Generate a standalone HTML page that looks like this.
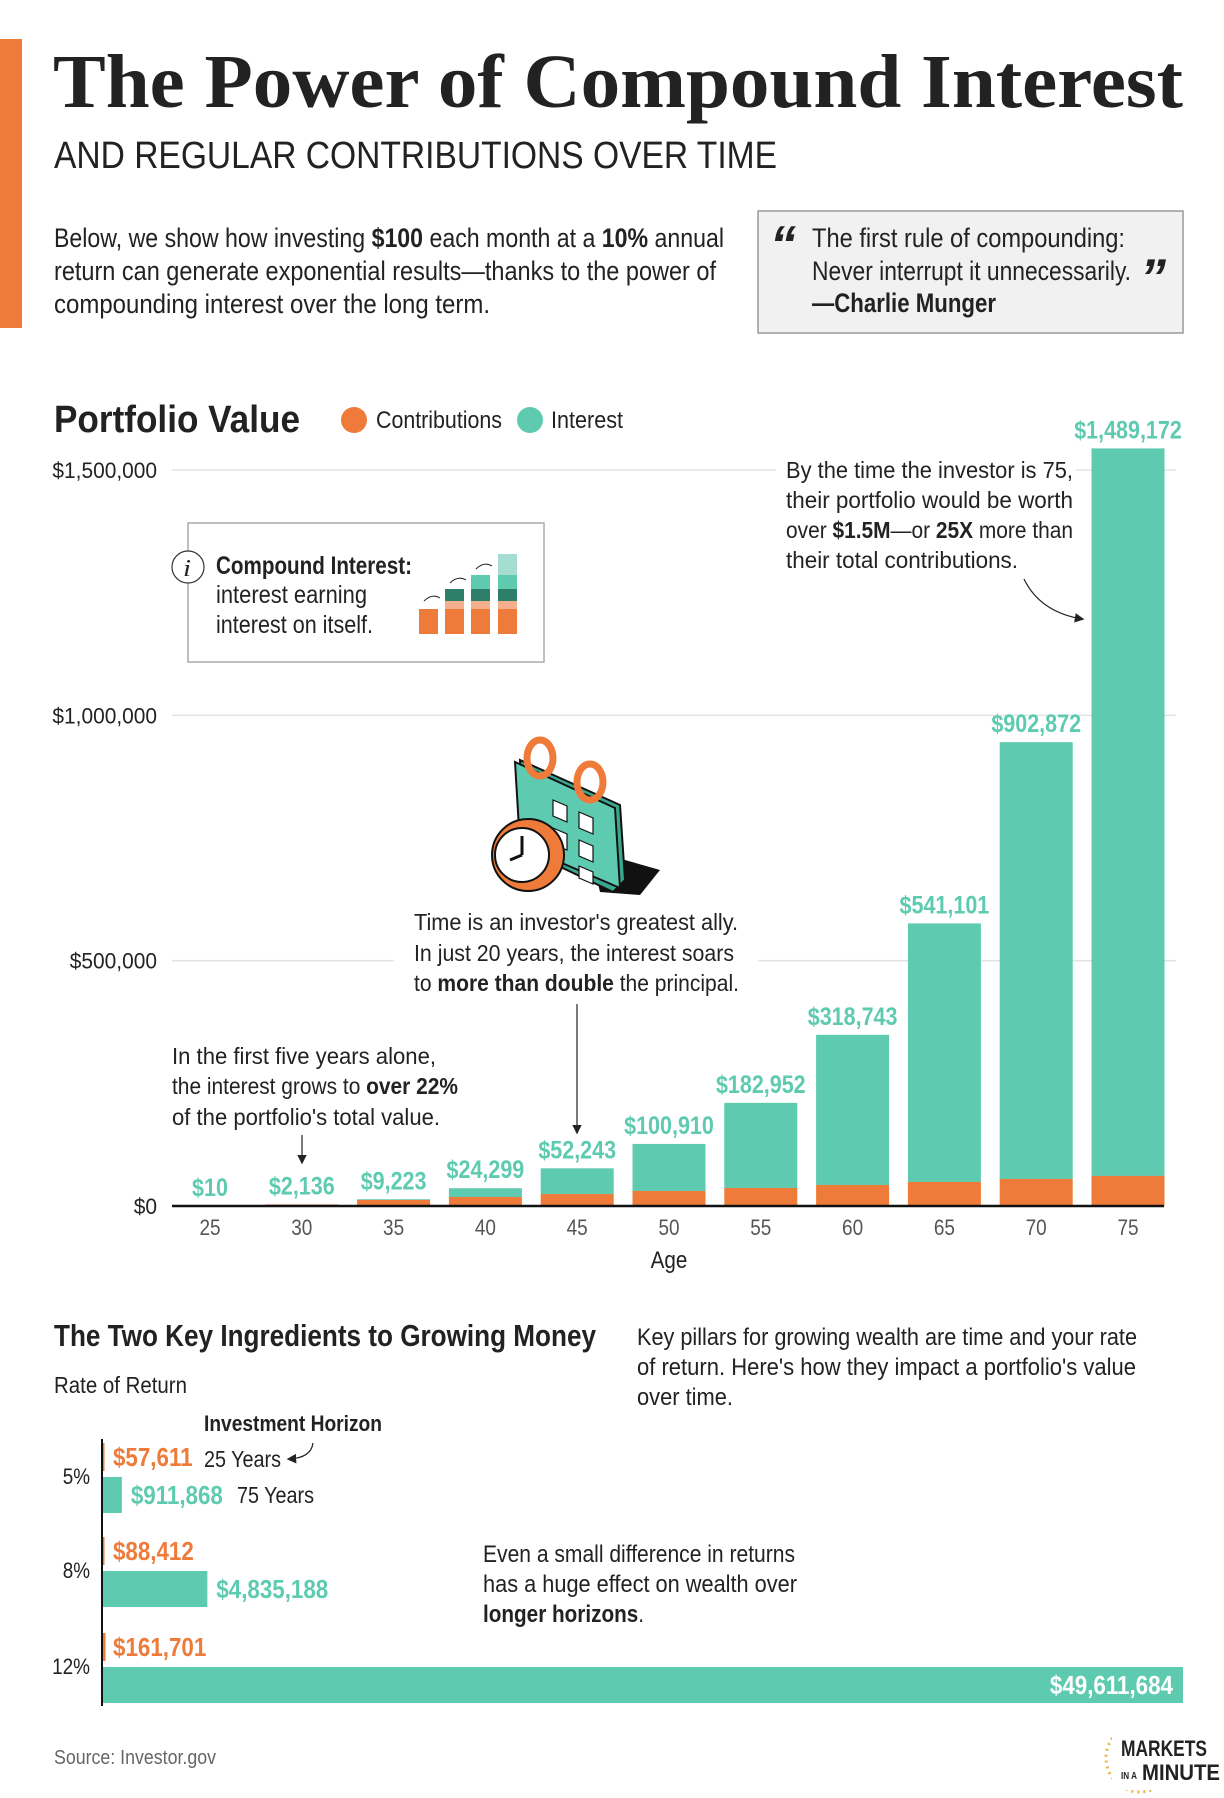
<!DOCTYPE html>
<html><head><meta charset="utf-8"><style>
body{margin:0;background:#fff}
svg{display:block}
text{font-family:"Liberation Sans Narrow","Liberation Sans",sans-serif;fill:#222}
.b{font-weight:bold}
</style></head><body>
<svg id="s" width="1224" height="1798" viewBox="0 0 1224 1798" xmlns="http://www.w3.org/2000/svg">
<defs><marker id="ah" markerWidth="8" markerHeight="8" refX="6" refY="4" orient="auto"><path d="M0,0 L8,4 L0,8z" fill="#222"/></marker></defs>
<rect x="0" y="39" width="22" height="289" fill="#EE7B39"/>
<text x="53" y="107" style="font-family:'Liberation Serif',serif" font-size="76" class="b" textLength="1130" lengthAdjust="spacingAndGlyphs">The Power of Compound Interest</text>
<text x="54" y="168" font-size="38" textLength="723" lengthAdjust="spacingAndGlyphs">AND REGULAR CONTRIBUTIONS OVER TIME</text>
<g font-size="27">
<text x="54" y="247" textLength="670" lengthAdjust="spacingAndGlyphs">Below, we show how investing <tspan class="b">$100</tspan> each month at a <tspan class="b">10%</tspan> annual</text>
<text x="54" y="280" textLength="662" lengthAdjust="spacingAndGlyphs">return can generate exponential results—thanks to the power of</text>
<text x="54" y="313" textLength="436" lengthAdjust="spacingAndGlyphs">compounding interest over the long term.</text>
</g>
<g>
<rect x="758" y="211" width="425" height="122" fill="#F1F1F1" stroke="#999" stroke-width="1.5"/>
<text x="770" y="262" font-size="52" class="b" font-style="italic" textLength="26" lengthAdjust="spacingAndGlyphs">“</text>
<text x="812" y="247" font-size="27" textLength="313" lengthAdjust="spacingAndGlyphs">The first rule of compounding:</text>
<text x="812" y="280" font-size="27" textLength="319" lengthAdjust="spacingAndGlyphs">Never interrupt it unnecessarily.</text>
<text x="1140" y="295" font-size="52" class="b" font-style="italic" textLength="26" lengthAdjust="spacingAndGlyphs">”</text>
<text x="812" y="312" font-size="27" class="b" textLength="184" lengthAdjust="spacingAndGlyphs">—Charlie Munger</text>
</g>
<text x="54" y="432" font-size="38" class="b" textLength="246" lengthAdjust="spacingAndGlyphs">Portfolio Value</text>
<g>
<circle cx="354" cy="420" r="13" fill="#EE7B39"/>
<text x="376" y="428" font-size="24" textLength="126" lengthAdjust="spacingAndGlyphs">Contributions</text>
<circle cx="530" cy="420" r="13" fill="#5ECBB0"/>
<text x="551" y="428" font-size="24" textLength="72" lengthAdjust="spacingAndGlyphs">Interest</text>
</g>
<g id="grid"></g>
<g id="bars"></g>
<g id="labels"></g>
<g>
<rect x="188" y="523" width="356" height="139" fill="#fff" stroke="#aaa" stroke-width="1.5"/>
<circle cx="188" cy="567" r="16" fill="#fff" stroke="#333" stroke-width="1.2"/>
<text x="183" y="576" style="font-family:'Liberation Serif',serif" font-size="24" font-style="italic" textLength="8" lengthAdjust="spacingAndGlyphs">i</text>
<text x="216" y="574" font-size="25" class="b" textLength="196" lengthAdjust="spacingAndGlyphs">Compound Interest:</text>
<text x="216" y="603" font-size="25" textLength="151" lengthAdjust="spacingAndGlyphs">interest earning</text>
<text x="216" y="633" font-size="25" textLength="157" lengthAdjust="spacingAndGlyphs">interest on itself.</text>
<rect x="419" y="609" width="19" height="25" fill="#EE7B39"/>
<rect x="445" y="609" width="19" height="25" fill="#EE7B39"/><rect x="445" y="601" width="19" height="8" fill="#F4AF8C"/><rect x="445" y="589" width="19" height="12" fill="#2E7F6A"/>
<rect x="471" y="609" width="19" height="25" fill="#EE7B39"/><rect x="471" y="601" width="19" height="8" fill="#F4AF8C"/><rect x="471" y="589" width="19" height="12" fill="#2E7F6A"/><rect x="471" y="575" width="19" height="14" fill="#5ECBB0"/>
<rect x="498" y="609" width="19" height="25" fill="#EE7B39"/><rect x="498" y="601" width="19" height="8" fill="#F4AF8C"/><rect x="498" y="589" width="19" height="12" fill="#2E7F6A"/><rect x="498" y="575" width="19" height="14" fill="#5ECBB0"/><rect x="498" y="554" width="19" height="21" fill="#A6DDD3"/>
<path d="M424,601 q8,-8 16,-3 M450,583 q8,-8 16,-3 M476,569 q8,-8 16,-3" stroke="#222" fill="none" stroke-width="1"/>
</g>
<g>
<path d="M590,850 L660,870 L640,895 L600,892z" fill="#111"/>
<path d="M520,760 L620,805 L625,880 L613,892 L525,850z" fill="#3AA88F" stroke="#111" stroke-width="2"/>
<path d="M515,762 L615,808 L620,888 L520,845z" fill="#5ECBB0" stroke="#111" stroke-width="2"/>
<g fill="#fff" stroke="#111" stroke-width="1.2">
<path d="M553,800 l14,6 v16 l-14,-6z"/><path d="M579,812 l14,6 v16 l-14,-6z"/><path d="M579,840 l14,6 v16 l-14,-6z"/>
<path d="M553,828 l14,6 v16 l-14,-6z"/><path d="M579,866 l14,6 v12 l-14,-6z"/>
</g>
<ellipse cx="540" cy="758" rx="13" ry="18" fill="none" stroke="#EE7B39" stroke-width="7"/>
<ellipse cx="590" cy="782" rx="13" ry="18" fill="none" stroke="#EE7B39" stroke-width="7"/>
<circle cx="528" cy="855" r="36" fill="#EE7B39" stroke="#111" stroke-width="2"/>
<circle cx="522" cy="855" r="27" fill="#fff" stroke="#111" stroke-width="2"/>
<path d="M522,855 V836 M522,855 L510,860" stroke="#111" stroke-width="3"/>
</g>
<g font-size="23">
<rect x="776" y="448" width="300" height="125" fill="#fff"/>
<text x="786" y="478" textLength="287" lengthAdjust="spacingAndGlyphs">By the time the investor is 75,</text>
<text x="786" y="508" textLength="287" lengthAdjust="spacingAndGlyphs">their portfolio would be worth</text>
<text x="786" y="538" textLength="287" lengthAdjust="spacingAndGlyphs">over <tspan class="b">$1.5M</tspan>—or <tspan class="b">25X</tspan> more than</text>
<text x="786" y="568" textLength="232" lengthAdjust="spacingAndGlyphs">their total contributions.</text>
<path d="M1024,579 Q1040,612 1082,619" stroke="#222" fill="none" stroke-width="1.2" marker-end="url(#ah)"/>
</g>
<g font-size="23">
<rect x="394" y="900" width="364" height="95" fill="#fff"/>
<text x="414" y="930" textLength="324" lengthAdjust="spacingAndGlyphs">Time is an investor's greatest ally.</text>
<text x="414" y="961" textLength="320" lengthAdjust="spacingAndGlyphs">In just 20 years, the interest soars</text>
<text x="414" y="991" textLength="325" lengthAdjust="spacingAndGlyphs">to <tspan class="b">more than double</tspan> the principal.</text>
<path d="M577,1004 V1132" stroke="#222" stroke-width="1.2" marker-end="url(#ah)"/>
</g>
<g font-size="23">
<text x="172" y="1064" textLength="264" lengthAdjust="spacingAndGlyphs">In the first five years alone,</text>
<text x="172" y="1094" textLength="286" lengthAdjust="spacingAndGlyphs">the interest grows to <tspan class="b">over 22%</tspan></text>
<text x="172" y="1125" textLength="268" lengthAdjust="spacingAndGlyphs">of the portfolio's total value.</text>
<path d="M302,1135 V1162" stroke="#222" stroke-width="1.2" marker-end="url(#ah)"/>
</g>
<text x="669" y="1268" font-size="24" text-anchor="middle">Age</text>
<text x="54" y="1346" font-size="31" class="b" textLength="542" lengthAdjust="spacingAndGlyphs">The Two Key Ingredients to Growing Money</text>
<g font-size="24">
<text x="637" y="1345" textLength="500" lengthAdjust="spacingAndGlyphs">Key pillars for growing wealth are time and your rate</text>
<text x="637" y="1375" textLength="499" lengthAdjust="spacingAndGlyphs">of return. Here's how they impact a portfolio's value</text>
<text x="637" y="1405" textLength="96" lengthAdjust="spacingAndGlyphs">over time.</text>
</g>
<text x="54" y="1393" font-size="23" textLength="133" lengthAdjust="spacingAndGlyphs">Rate of Return</text>
<text x="204" y="1431" font-size="22" class="b" textLength="178" lengthAdjust="spacingAndGlyphs">Investment Horizon</text>
<g id="rates"></g>
<g font-size="24">
<text x="483" y="1562" textLength="312" lengthAdjust="spacingAndGlyphs">Even a small difference in returns</text>
<text x="483" y="1592" textLength="314" lengthAdjust="spacingAndGlyphs">has a huge effect on wealth over</text>
<text x="483" y="1622" class="b" textLength="161" lengthAdjust="spacingAndGlyphs">longer horizons<tspan font-weight="normal">.</tspan></text>
</g>
<text x="54" y="1764" font-size="20" style="fill:#666" textLength="162" lengthAdjust="spacingAndGlyphs">Source: Investor.gov</text>
<g>
<circle cx="1140" cy="1758" r="34" fill="none" stroke="#E9B44C" stroke-width="3" stroke-dasharray="2 4"/>
<rect x="1112" y="1722" width="112" height="68" fill="#fff"/>
<text x="1121" y="1756" font-size="22" class="b" textLength="86" lengthAdjust="spacingAndGlyphs">MARKETS</text>
<text x="1121" y="1779" font-size="10" class="b" textLength="16" lengthAdjust="spacingAndGlyphs">IN A</text>
<text x="1142" y="1780" font-size="22" class="b" textLength="78" lengthAdjust="spacingAndGlyphs">MINUTE</text>
</g>
</svg>
<script>
// Portfolio value data
const ages = [25,30,35,40,45,50,55,60,65,70,75];
const totals = [10,2136,9223,24299,52243,100910,182952,318743,541101,902872,1489172];
const contributions = [0,6000,12000,18000,24000,30000,36000,42000,48000,54000,60000];
const yTicks = [0,500000,1000000,1500000];
const yTickLabels = ["$0","$500,000","$1,000,000","$1,500,000"];
const valueLabels = ["$10","$2,136","$9,223","$24,299","$52,243","$100,910","$182,952","$318,743","$541,101","$902,872","$1,489,172"];
// Rate of return data
const rates = ["5%","8%","12%"];
const short25 = [57611,88412,161701];
const long75 = [911868,4835188,49611684];
const short25Labels = ["$57,611","$88,412","$161,701"];
const long75Labels = ["$911,868","$4,835,188","$49,611,684"];

const NS="http://www.w3.org/2000/svg";
function mk(tag,attrs,parent,txt){const e=document.createElementNS(NS,tag);for(const k in attrs)e.setAttribute(k,attrs[k]);if(txt!==undefined)e.textContent=txt;parent.appendChild(e);return e;}
const y=v=>1206-v*736/1500000;             // gridline axis
const yb=v=>1206-(v*5.01e-4+11.5*Math.min(1,v/50000)); // bar total axis
const yc=v=>1206-v*5.01e-4;                 // contributions axis
const x=a=>210+(a-25)/5*91.8;
const TEAL="#5ECBB0",ORANGE="#EE7B39";
const grid=document.getElementById('grid'),bars=document.getElementById('bars'),labels=document.getElementById('labels');
yTicks.forEach((t,i)=>{
  if(t>0){const g=mk('line',{x1:172,x2:1176,y1:y(t),y2:y(t),stroke:'#e3e3e3','stroke-width':1.5},grid);
  
  }
  const l=mk('text',{x:157,y:y(t)+8,'font-size':22,'text-anchor':'end','data-keep':'1'},grid,yTickLabels[i]);
  
  
});
ages.forEach((a,i)=>{
  const cx=x(a),w=73;
  const top=yb(totals[i]),ct=Math.max(top,yc(contributions[i]));
  const tb=mk('rect',{x:cx-w/2,y:top,width:w,height:Math.max(0,ct-top),fill:TEAL},bars);
  
  
  const ob=mk('rect',{x:cx-w/2,y:ct,width:w,height:1206-ct,fill:ORANGE},bars);
  
  
  const lb=mk('text',{x:cx,y:top-10,'font-size':25,'font-weight':'bold','text-anchor':'middle',style:'fill:'+TEAL},labels,valueLabels[i]);
  
  
  const tk=mk('text',{x:cx,y:1235,'font-size':22,'text-anchor':'middle',style:'fill:#555'},labels,String(a));
  
  
});
const base=mk('line',{x1:172,x2:1164,y1:1206,y2:1206,stroke:'#111','stroke-width':2.5},bars);



const rg=document.getElementById('rates');
const bx=x0=>102+x0*1081/49611684;
const rowTop=[1443,1537,1633];
rates.forEach((r,i)=>{
  const t=rowTop[i];
  const rl=mk('text',{x:90,y:t+41,'font-size':22,'text-anchor':'end'},rg,r);
  
  
  const ob=mk('rect',{x:102,y:t,width:Math.max(2.5,bx(short25[i])-102),height:28,fill:ORANGE},rg);
  
  
  const ol=mk('text',{x:113,y:t+23,'font-size':26,'font-weight':'bold',style:'fill:'+ORANGE},rg,short25Labels[i]);
  
  
  const w=bx(long75[i])-102;
  const tb=mk('rect',{x:102,y:t+34,width:w,height:36,fill:TEAL},rg);
  
  
  const inside=w>300;
  const tl=mk('text',{x:inside?102+w-10:102+w+9,y:t+61,'font-size':26,'font-weight':'bold','text-anchor':inside?'end':'start',style:'fill:'+(inside?'#fff':TEAL)},rg,long75Labels[i]);
  
  
});
const ax=mk('line',{x1:102,x2:102,y1:1439,y2:1706,stroke:'#111','stroke-width':2},rg);


const y25=mk('text',{x:204,y:1467,'font-size':23},rg,'25 Years');


const y75=mk('text',{x:237,y:1503,'font-size':23},rg,'75 Years');


const ca=mk('path',{d:'M313,1443 q-2,15 -24,16',stroke:'#222',fill:'none','stroke-width':1.2,'marker-end':'url(#ah)'},rg);



// condense any text without explicit length (narrow font emulation)
document.querySelectorAll('#s text').forEach(t=>{
  if(!t.hasAttribute('textLength')){
    const L=t.getComputedTextLength();
    const f=t.hasAttribute('data-keep')?0.95:0.86;
    if(L>0){t.setAttribute('textLength',(L*f).toFixed(1));t.setAttribute('lengthAdjust','spacingAndGlyphs');}
  }
});
</script>
</body></html>
